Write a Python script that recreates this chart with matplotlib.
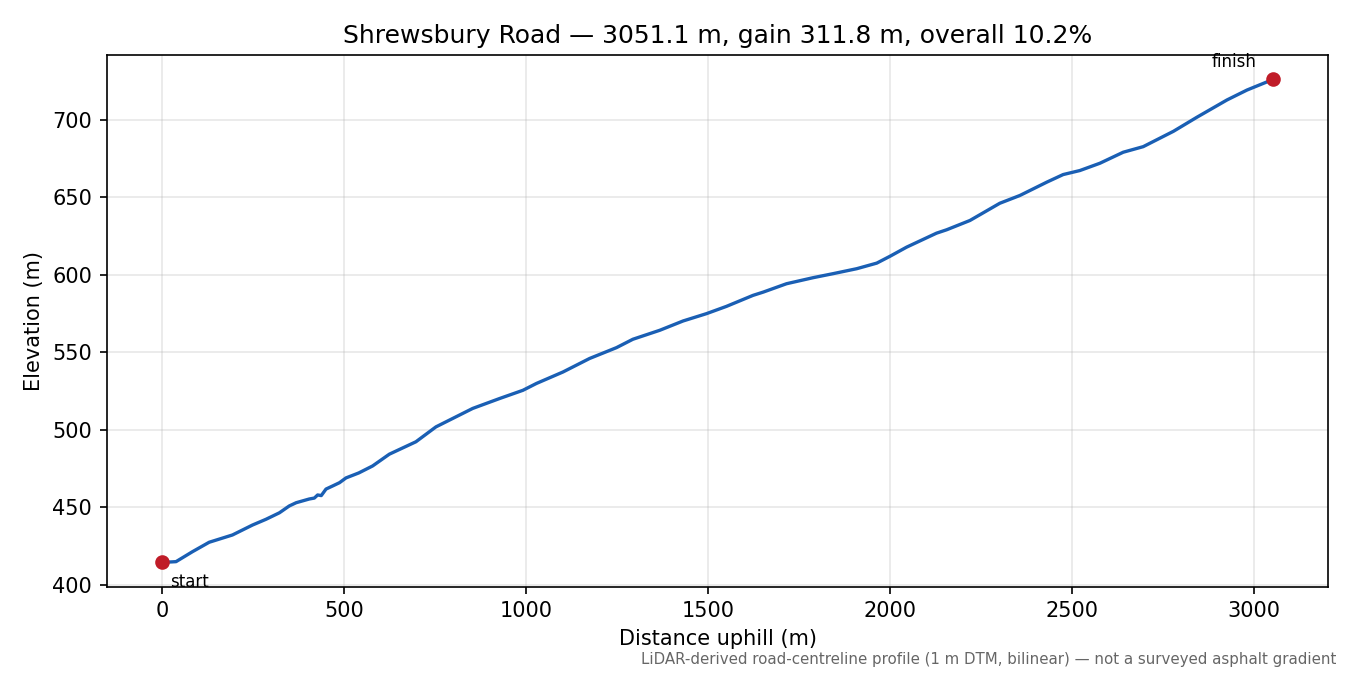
import matplotlib
matplotlib.use("Agg")
import matplotlib.pyplot as plt

# profile (distance uphill in m, elevation in m)
distance = [0, 38, 83, 129, 193, 248, 285, 322, 349, 368, 404, 418, 427, 437,
            450, 470, 487, 505, 540, 578, 624, 697, 752, 853, 927, 991, 1028,
            1101, 1174, 1248, 1293, 1367, 1431, 1495, 1550, 1623, 1651, 1715,
            1788, 1843, 1908, 1963, 2000, 2045, 2127, 2155, 2219, 2301, 2356,
            2430, 2475, 2521, 2576, 2640, 2695, 2778, 2842, 2925, 2980, 3051.1]
elevation = [414.5, 415.0, 421.4, 427.5, 432.2, 438.6, 442.3, 446.5, 450.9,
             453.0, 455.4, 456.0, 458.0, 457.6, 461.8, 464.0, 465.9, 469.0,
             472.2, 476.7, 484.3, 492.3, 501.9, 513.8, 520.2, 525.5, 529.9,
             537.3, 546.0, 553.0, 558.4, 564.2, 570.2, 574.9, 579.6, 586.7,
             588.8, 594.2, 598.1, 600.7, 603.9, 607.5, 612.0, 617.8, 626.8,
             629.0, 635.0, 646.1, 651.1, 659.7, 664.6, 667.2, 671.9, 679.0,
             682.6, 692.5, 701.5, 712.7, 719.1, 725.9]

ROAD = "Shrewsbury Road"
LENGTH = 3051.1
GAIN = 311.8
GRADE = 10.2

LINE_COL = "#1a5fb4"
END_COL = "#c01c28"

fig, ax = plt.subplots(figsize=(9, 4.5), dpi=150)
fig.subplots_adjust(left=0.079, right=0.984, top=0.918, bottom=0.131)

ax.plot(distance, elevation, color=LINE_COL, lw=1.6, zorder=2)
ax.plot([distance[0], distance[-1]], [elevation[0], elevation[-1]], "o",
        color=END_COL, ms=6, zorder=3)

ax.annotate("start", (distance[0], elevation[0]), xytext=(4, -12),
            textcoords="offset points", fontsize=8)
ax.annotate("finish", (distance[-1], elevation[-1]), xytext=(-8, 6),
            textcoords="offset points", fontsize=8, ha="right")

ax.set_title(f"{ROAD} \u2014 {LENGTH} m, gain {GAIN} m, overall {GRADE}%")
ax.set_xlabel("Distance uphill (m)")
ax.set_ylabel("Elevation (m)")
ax.grid(True, alpha=0.3)

fig.text(0.99, 0.012,
         "LiDAR-derived road-centreline profile (1 m DTM, bilinear) \u2014 "
         "not a surveyed asphalt gradient",
         ha="right", va="bottom", fontsize=7.2, color="0.4")

fig.savefig("out.png", dpi=150)
